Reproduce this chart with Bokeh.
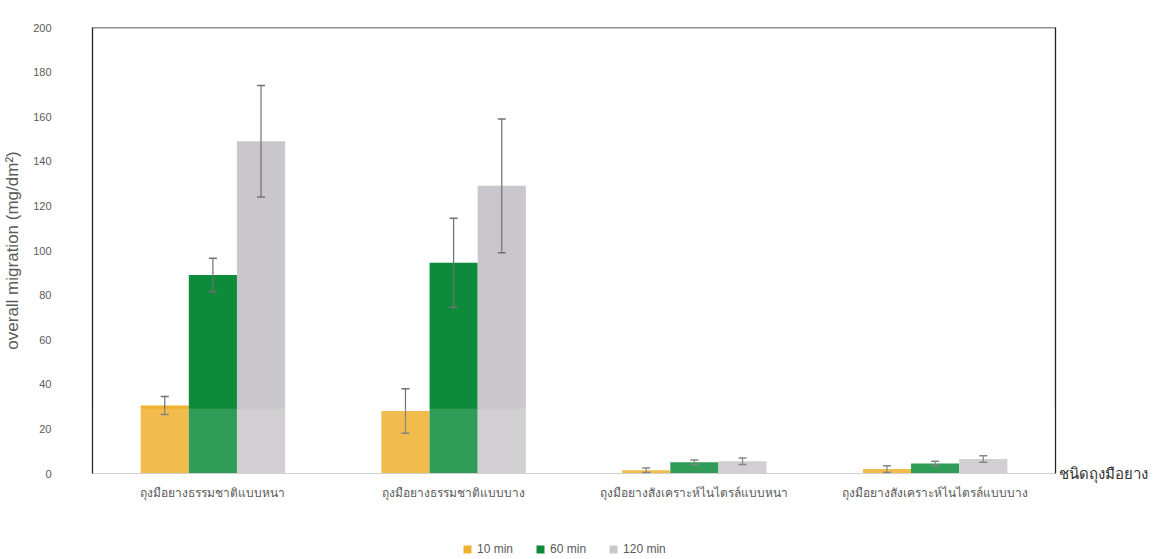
from bokeh.plotting import figure
from bokeh.layouts import column
from bokeh.models import (ColumnDataSource, FactorRange, Whisker, Legend, LegendItem,
                          Span, BoxAnnotation, LinearAxis, FixedTicker)
from bokeh.transform import dodge
from bokeh.embed import file_html
from bokeh.resources import INLINE

categories = ["ถุงมือยางธรรมชาติแบบหนา", "ถุงมือยางธรรมชาติแบบบาง",
              "ถุงมือยางสังเคราะห์ไนไตรล์แบบหนา", "ถุงมือยางสังเคราะห์ไนไตรล์แบบบาง"]
series = ["10 min", "60 min", "120 min"]
vals_10 = [30.5, 28.0, 1.5, 2.0]
err_10 = [4.0, 10.0, 1.0, 1.5]
vals_60 = [89.0, 94.5, 5.0, 4.5]
err_60 = [7.5, 20.0, 1.0, 1.0]
vals_120 = [149.0, 129.0, 5.5, 6.5]
err_120 = [25.0, 30.0, 1.5, 1.5]
colors = ["#EFB12E", "#0E8B3A", "#C9C7CB"]
y_ticks = list(range(0, 201, 20))
x_title = "ชนิดถุงมือยาง"
y_title = "overall migration (mg/dm²)"

FONT = "Liberation Sans"
TXT = "#5a5a5a"

p = figure(x_range=FactorRange(*categories, range_padding=0), y_range=(0, 200),
           width=1155, height=529, output_backend="svg", toolbar_location=None,
           min_border_left=92, min_border_right=100, min_border_top=27, min_border_bottom=56)
p.outline_line_color = None
p.xgrid.grid_line_color = None
p.ygrid.grid_line_color = None

offsets = [-0.2, 0.0, 0.2]
vals = [vals_10, vals_60, vals_120]
errs = [err_10, err_60, err_120]
for s, v, e, c, off in zip(series, vals, errs, colors, offsets):
    src = ColumnDataSource(dict(cat=categories, v=v,
                                up=[a + b for a, b in zip(v, e)],
                                lo=[a - b for a, b in zip(v, e)]))
    p.vbar(x=dodge("cat", off, range=p.x_range), top="v", width=0.2, source=src,
           fill_color=c, line_color=None)
    w = Whisker(base=dodge("cat", off, range=p.x_range), upper="up", lower="lo", source=src,
                line_color="#707070", line_width=1.2, level="annotation")
    for h in (w.upper_head, w.lower_head):
        h.size = 8
        h.line_color = "#707070"
        h.line_width = 1.5
    p.add_layout(w)

# faint light band seen over the lower part of the scanned figure
p.add_layout(BoxAnnotation(bottom=0, top=29, fill_color="white", fill_alpha=0.15,
                           line_color=None, level="overlay"))

# top border of the frame
p.add_layout(Span(location=200, dimension="width", line_color="#222222", line_width=1.3))

p.yaxis.ticker = y_ticks
p.yaxis.axis_line_color = "#222222"
p.yaxis.axis_line_width = 1.3
p.yaxis.major_tick_line_color = None
p.yaxis.minor_tick_line_color = None
p.yaxis.major_label_standoff = 35
p.yaxis.major_label_text_font = FONT
p.yaxis.major_label_text_font_size = "11px"
p.yaxis.major_label_text_color = TXT
p.yaxis.axis_label = y_title
p.yaxis.axis_label_text_font = FONT
p.yaxis.axis_label_text_font_style = "normal"
p.yaxis.axis_label_text_font_size = "17px"
p.yaxis.axis_label_text_color = TXT
p.yaxis.axis_label_standoff = 8

p.xaxis.axis_line_color = "#cfcfcf"
p.xaxis.major_tick_line_color = None
p.xaxis.minor_tick_line_color = None
p.xaxis.major_label_standoff = 6
p.xaxis.major_label_text_font_size = "12px"
p.xaxis.major_label_text_color = TXT

# right border + x-axis title at the right end of the axis
right_axis = LinearAxis(ticker=FixedTicker(ticks=[0]), major_label_overrides={0: x_title},
                        axis_line_color="#222222", axis_line_width=1.3,
                        major_tick_line_color=None, minor_tick_line_color=None,
                        major_tick_out=0, major_label_standoff=3,
                        major_label_text_font_size="15px",
                        major_label_text_color="#333333")
p.add_layout(right_axis, "right")

# legend strip below the chart
p2 = figure(width=1155, height=30, output_backend="svg", toolbar_location=None,
            min_border=0, x_range=FactorRange(*series), y_range=(0, 1))
p2.outline_line_color = None
p2.xaxis.visible = False
p2.yaxis.visible = False
p2.xgrid.grid_line_color = None
p2.ygrid.grid_line_color = None
items = []
for s, c in zip(series, colors):
    r = p2.vbar(x=[s], top=[0], width=0.1, fill_color=c, line_color=None)
    items.append(LegendItem(label=s, renderers=[r]))
legend = Legend(items=items, orientation="horizontal", location=(370, 3),
                label_text_font=FONT, label_text_font_size="12px",
                label_text_color=TXT, glyph_width=10, glyph_height=10,
                spacing=22, label_standoff=5, border_line_color=None,
                background_fill_alpha=0, padding=0, margin=0, label_height=12)
p2.add_layout(legend, "center")

open("out.html", "w").write(file_html(column(p, p2, spacing=0), INLINE))
